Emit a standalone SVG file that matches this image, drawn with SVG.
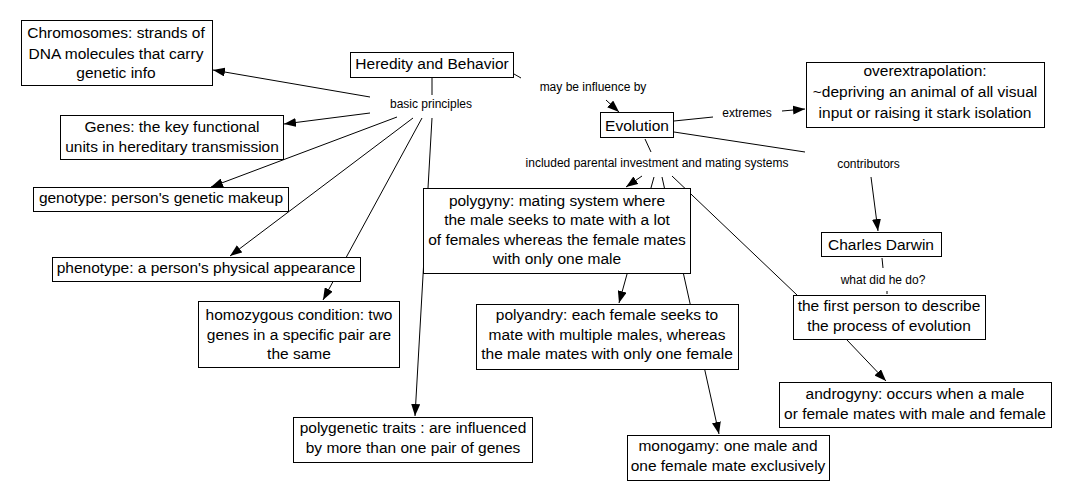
<svg xmlns="http://www.w3.org/2000/svg" width="1070" height="500" viewBox="0 0 1070 500">
<style>
.n rect{fill:#fff;stroke:#000;stroke-width:1}
.n text{font-family:"Liberation Sans",Arial,sans-serif;font-size:15.5px;text-anchor:middle;fill:#000}
.l text{font-family:"Liberation Sans",Arial,sans-serif;font-size:12px;text-anchor:middle;fill:#000}
#connectors line{stroke:#000;stroke-width:1;fill:none}
#connectors line.a{marker-end:url(#ah)}
</style>
<defs>
<marker id="ah" markerUnits="userSpaceOnUse" viewBox="0 0 12 9" refX="12" refY="4.5" markerWidth="12" markerHeight="9" orient="auto">
<path d="M0,0 L12,4.5 L0,9 Z" fill="#000"/>
</marker>
</defs>
<rect x="0" y="0" width="1070" height="500" fill="#fff"/>
<g id="connectors">
<line x1="432" y1="77" x2="432" y2="95"/>
<line class="a" x1="370" y1="97" x2="213" y2="70"/>
<line class="a" x1="370" y1="113" x2="284" y2="124"/>
<line class="a" x1="397" y1="117" x2="211" y2="187"/>
<line class="a" x1="413" y1="118" x2="230" y2="256"/>
<line class="a" x1="422" y1="118" x2="323" y2="300"/>
<line class="a" x1="432" y1="118" x2="415" y2="416"/>
<line x1="514" y1="74" x2="521" y2="78"/>
<line class="a" x1="606" y1="100" x2="619" y2="112"/>
<line x1="674" y1="121" x2="713" y2="117"/>
<line class="a" x1="782" y1="111" x2="805" y2="109"/>
<line x1="674" y1="132" x2="805" y2="152"/>
<line class="a" x1="871" y1="177" x2="878" y2="231"/>
<line x1="645" y1="139" x2="651" y2="152"/>
<line class="a" x1="642" y1="176" x2="626" y2="187"/>
<line class="a" x1="654" y1="177" x2="619" y2="303"/>
<line class="a" x1="662" y1="177" x2="719" y2="434"/>
<line x1="672" y1="176" x2="797" y2="295"/>
<line x1="882" y1="258" x2="883" y2="268"/>
<line x1="887" y1="291" x2="887" y2="294"/>
<line class="a" x1="847" y1="340" x2="886" y2="381"/>
</g>
<g id="lbl-basic-principles" class="l"><text x="431" y="108">basic principles</text></g>
<g id="lbl-may-be-influence-by" class="l"><text x="593" y="91">may be influence by</text></g>
<g id="lbl-extremes" class="l"><text x="747" y="117">extremes</text></g>
<g id="lbl-included" class="l"><text x="657" y="167">included parental investment and mating systems</text></g>
<g id="lbl-contributors" class="l"><text x="868.5" y="168">contributors</text></g>
<g id="lbl-what-did-he-do" class="l"><text x="883" y="284">what did he do?</text></g>
<g id="chromosomes" class="n"><rect x="21.5" y="20.5" width="191" height="65"/><text x="116" y="38">Chromosomes: strands of</text><text x="116" y="59">DNA molecules that carry</text><text x="116" y="78">genetic info</text></g>
<g id="heredity" class="n"><rect x="350.5" y="52.5" width="163" height="25"/><text x="432" y="69">Heredity and Behavior</text></g>
<g id="genes" class="n"><rect x="60.5" y="115.5" width="223" height="44"/><text x="172" y="132">Genes: the key functional</text><text x="172" y="152">units in hereditary transmission</text></g>
<g id="genotype" class="n"><rect x="33.5" y="187.5" width="255" height="24"/><text x="161" y="203">genotype: person's genetic makeup</text></g>
<g id="phenotype" class="n"><rect x="52.5" y="257.5" width="308" height="24"/><text x="206" y="273">phenotype: a person's physical appearance</text></g>
<g id="homozygous" class="n"><rect x="198.5" y="301.5" width="201" height="66"/><text x="299" y="320">homozygous condition: two</text><text x="299" y="340">genes in a specific pair are</text><text x="299" y="359">the same</text></g>
<g id="polygenetic" class="n"><rect x="293.5" y="417.5" width="239" height="45"/><text x="413" y="433">polygenetic traits : are influenced</text><text x="413" y="453">by more than one pair of genes</text></g>
<g id="evolution" class="n"><rect x="600.5" y="112.5" width="73" height="25"/><text x="637" y="131">Evolution</text></g>
<g id="overextrapolation" class="n"><rect x="806.5" y="62.5" width="238" height="65"/><text x="925" y="76">overextrapolation:</text><text x="925" y="97">~depriving an animal of all visual</text><text x="925" y="118">input or raising it stark isolation</text></g>
<g id="polygyny" class="n"><rect x="423.5" y="188.5" width="267" height="85"/><text x="557" y="206">polygyny: mating system where</text><text x="557" y="225">the male seeks to mate with a lot</text><text x="557" y="245">of females whereas the female mates</text><text x="557" y="264">with only one male</text></g>
<g id="polyandry" class="n"><rect x="476.5" y="304.5" width="262" height="65"/><text x="607" y="320">polyandry: each female seeks to</text><text x="607" y="340">mate with multiple males, whereas</text><text x="607" y="359">the male mates with only one female</text></g>
<g id="monogamy" class="n"><rect x="627.5" y="435.5" width="202" height="45"/><text x="728" y="451">monogamy: one male and</text><text x="728" y="471">one female mate exclusively</text></g>
<g id="darwin" class="n"><rect x="821.5" y="232.5" width="120" height="24"/><text x="881" y="250">Charles Darwin</text></g>
<g id="first-person" class="n"><rect x="793.5" y="295.5" width="192" height="44"/><text x="889" y="311">the first person to describe</text><text x="889" y="331">the process of evolution</text></g>
<g id="androgyny" class="n"><rect x="779.5" y="382.5" width="272" height="45"/><text x="915" y="399">androgyny: occurs when a male</text><text x="915" y="419">or female mates with male and female</text></g>
</svg>
